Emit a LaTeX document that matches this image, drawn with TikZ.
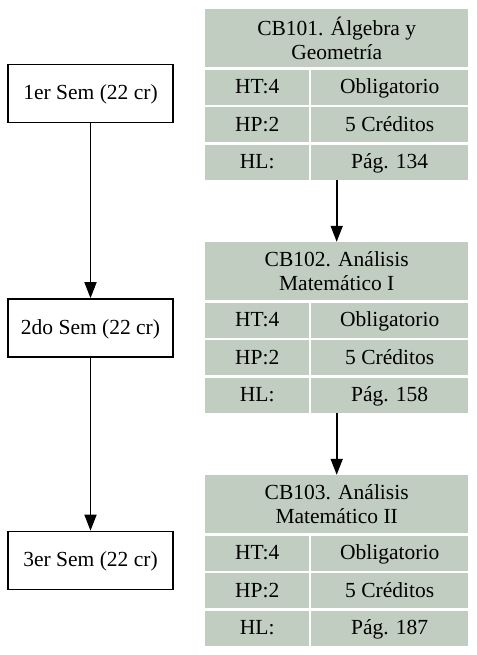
\documentclass[tikz,border=0pt]{standalone}
\usepackage{fontspec}
\setmainfont{Liberation Serif}
\usetikzlibrary{arrows.meta,fit}
\definecolor{hd3}{RGB}{193,205,193}
\newcommand\fs{\fontsize{21.5}{24}\selectfont}
\tikzset{
  cell/.style={fill=hd3, draw=none, inner sep=0pt, font=\fs, align=center, anchor=north west},
  rowcell/.style={cell, minimum height=35pt, text height=16.5pt, text depth=3.5pt},
  sem/.style={draw=black, line width=1.6pt, minimum width=165pt, minimum height=58pt, inner sep=0pt, font=\fs, text height=16pt, text depth=4pt},
  arr/.style={draw=black, line width=1.6pt, -{Triangle[length=16pt,width=12pt]}}
}
\newcommand\coursetable[4]{%
  \node[cell, minimum width=263pt, minimum height=58pt] (#1-title) at (205,#2) {#3};
  \node[rowcell, minimum width=104pt] (#1-r1l) at (205,#2+60.5) {HT:4};
  \node[rowcell, minimum width=157pt] (#1-r1r) at (311,#2+60.5) {Obligatorio};
  \node[rowcell, minimum width=104pt] (#1-r2l) at (205,#2+98) {HP:2};
  \node[rowcell, minimum width=157pt] (#1-r2r) at (311,#2+98) {5 Créditos};
  \node[rowcell, minimum width=104pt] (#1-r3l) at (205,#2+135.5) {HL:};
  \node[rowcell, minimum width=157pt] (#1-r3r) at (311,#2+135.5) {Pág. #4};
  \node[fit=(#1-title)(#1-r3r), inner sep=0pt, draw=none] (#1) {};
}
\begin{document}
\begin{tikzpicture}[x=1pt,y=-1pt]
\useasboundingbox (0,0) rectangle (476,655);
\node[sem] (s1) at (90.5,93.5) {1er Sem (22 cr)};
\node[sem] (s2) at (90.5,328) {2do Sem (22 cr)};
\node[sem] (s3) at (90.5,560.5) {3er Sem (22 cr)};
\draw[arr] (s1) -- (s2);
\draw[arr] (s2) -- (s3);
\coursetable{t1}{9}{CB101. Álgebra y\\Geometría}{134}
\coursetable{t2}{242}{CB102. Análisis\\Matemático I}{158}
\coursetable{t3}{475}{CB103. Análisis\\Matemático II}{187}
\draw[arr] (t1) -- (t2);
\draw[arr] (t2) -- (t3);
\end{tikzpicture}
\end{document}
